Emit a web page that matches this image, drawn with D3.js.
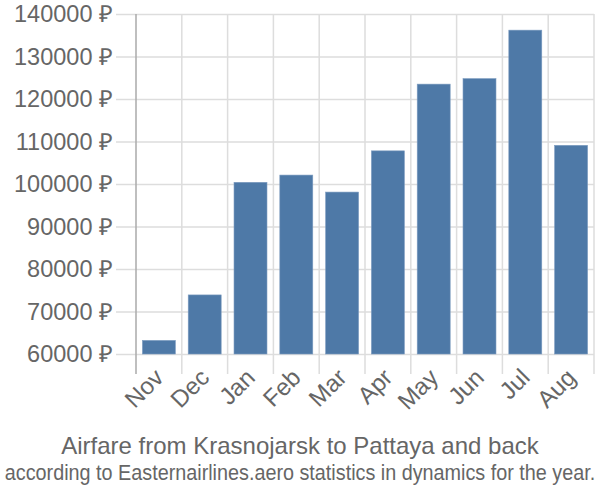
<!DOCTYPE html>
<html>
<head>
<meta charset="utf-8">
<script src="https://cdn.jsdelivr.net/npm/d3@7"></script>
<style>
  body { margin: 0; background: #fff; }
  text { font-family: "Liberation Sans", Arial, sans-serif; fill: #666; }
</style>
</head>
<body>
<div class="chart"></div>
<script>
// data
var months = ["Nov", "Dec", "Jan", "Feb", "Mar", "Apr", "May", "Jun", "Jul", "Aug"];
var prices = [63200, 73900, 100400, 102100, 98100, 107800, 123500, 124800, 136200, 109100];
var yTicks = [60000, 70000, 80000, 90000, 100000, 110000, 120000, 130000, 140000];

var margin = {top: 14, right: 6, bottom: 146, left: 136},
    width = 600 - margin.left - margin.right,
    height = 500 - margin.top - margin.bottom;

var svg = d3.select(".chart")
    .append("svg")
    .attr("width", 600)
    .attr("height", 500);

var g = svg.append("g")
    .attr("transform", "translate(" + margin.left + "," + margin.top + ")");

var x = d3.scaleBand()
    .domain(months)
    .range([0, width])
    .padding(0);

var y = d3.scaleLinear()
    .domain([60000, 140000])
    .range([height, 0]);

// horizontal grid + y labels
g.append("g")
    .call(d3.axisLeft(y).tickValues(yTicks).tickSize(-width - 20).tickPadding(3)
        .tickFormat(function(d) { return d + " \u20BD"; }))
    .attr("transform", "translate(-20,0)")
    .call(function(a) {
        a.select(".domain").remove();
        a.selectAll("line").attr("stroke", "#ddd").attr("stroke-width", 1.5)
            .attr("x2", width + 20);
        a.selectAll("text").attr("font-size", 23.5).attr("fill", "#666")
            .attr("font-family", "Liberation Sans, Arial, sans-serif");
    });

// vertical grid at band edges
var edges = months.map(function(m) { return x(m); }).concat([width]);
g.append("g").selectAll("line")
    .data(edges)
    .enter().append("line")
    .attr("x1", function(d) { return d; })
    .attr("x2", function(d) { return d; })
    .attr("y1", 0)
    .attr("y2", height + 20)
    .attr("stroke", function(d, i) { return i === 0 ? "#aaa" : "#ddd"; })
    .attr("stroke-width", 1.5);

// bars
var inset = x.bandwidth() * 0.14;
g.append("g").selectAll("rect")
    .data(prices)
    .enter().append("rect")
    .attr("x", function(d, i) { return x(months[i]) + inset; })
    .attr("y", function(d) { return y(d); })
    .attr("width", x.bandwidth() - 2 * inset)
    .attr("height", function(d) { return y(60000) - y(d); })
    .attr("fill", "#4e79a7")
    .attr("stroke", "#7d9cc0")
    .attr("stroke-width", 0.6);

// x labels
g.append("g").selectAll("text")
    .data(months)
    .enter().append("text")
    .attr("font-size", 24)
    .attr("text-anchor", "end")
    .attr("transform", function(d) {
        return "translate(" + (x(d) + x.bandwidth() / 2 + 6) + "," + (height + 25) + ")rotate(-45)";
    })
    .text(function(d) { return d; });

// titles
svg.append("text")
    .attr("x", 300)
    .attr("y", 454)
    .attr("text-anchor", "middle")
    .attr("font-size", 24)
    .text("Airfare from Krasnojarsk to Pattaya and back");

// subtitle is narrow in the original, squeeze it horizontally
var sx = 0.9;
svg.append("text")
    .attr("transform", "translate(300,480)scale(" + sx + ",1)")
    .attr("text-anchor", "middle")
    .attr("font-size", 22)
    .text("according to Easternairlines.aero statistics in dynamics for the year.");
</script>
</body>
</html>
